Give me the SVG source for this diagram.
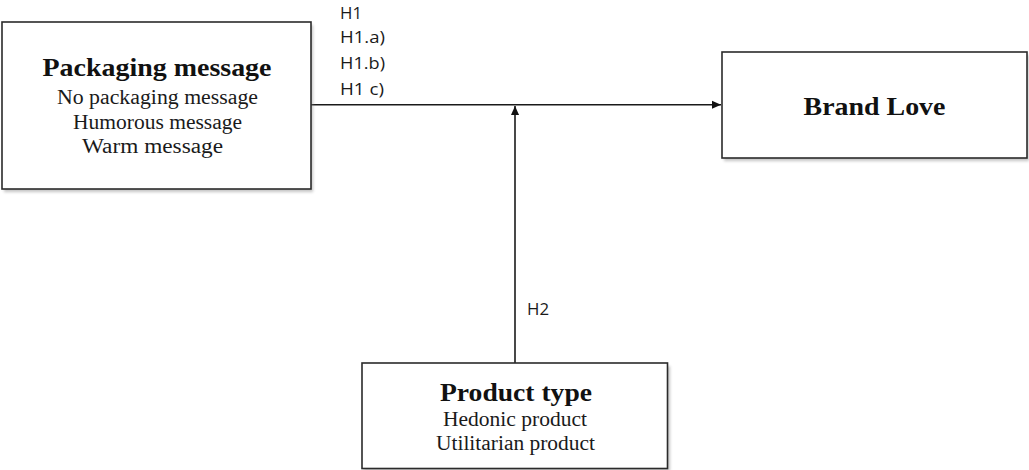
<svg xmlns="http://www.w3.org/2000/svg" width="1029" height="470" viewBox="0 0 1029 470">
  <style>
    .box { fill: #ffffff; stroke: #2b2b2b; stroke-width: 1.6; }
    .shadow { fill: #8a8a8a; opacity: 0.5; }
    .title { font-family: "Liberation Serif", "Times New Roman", serif; font-weight: bold; font-size: 25.5px; fill: #111; text-anchor: middle; }
    .sub { font-family: "Liberation Serif", "Times New Roman", serif; font-size: 20px; fill: #1a1a1a; text-anchor: middle; }
    .lbl { font-family: "Open Sans", "DejaVu Sans", sans-serif; font-size: 15.5px; fill: #1a1a1a; }
    .conn { stroke: #1a1a1a; stroke-width: 1.6; fill: none; }
  </style>
  <defs>
    <filter id="blur" x="-5%" y="-5%" width="110%" height="120%">
      <feGaussianBlur stdDeviation="1.5"/>
    </filter>
    <marker id="arrow" viewBox="0 0 10 10" refX="10" refY="5" markerWidth="10" markerHeight="9" markerUnits="userSpaceOnUse" orient="auto">
      <path d="M0,0.5 L10,5 L0,9.5 Z" fill="#111"/>
    </marker>
  </defs>
  <rect width="1029" height="470" fill="#ffffff"/>

  <g id="connectors">
    <line class="conn" x1="311" y1="104.8" x2="721" y2="104.8" marker-end="url(#arrow)"/>
    <line class="conn" x1="515" y1="363" x2="515" y2="106" marker-end="url(#arrow)"/>
    <g id="connector-labels">
      <text class="lbl" x="340" y="18.5" textLength="22" lengthAdjust="spacingAndGlyphs">H1</text>
      <text class="lbl" x="340" y="43" textLength="45" lengthAdjust="spacingAndGlyphs">H1.a)</text>
      <text class="lbl" x="340" y="68.5" textLength="45" lengthAdjust="spacingAndGlyphs">H1.b)</text>
      <text class="lbl" x="340" y="95" textLength="44" lengthAdjust="spacingAndGlyphs">H1 c)</text>
      <text class="lbl" x="527" y="315" textLength="22" lengthAdjust="spacingAndGlyphs">H2</text>
    </g>
  </g>

  <g id="packaging-message">
    <rect class="shadow" x="4" y="25" width="309" height="167" filter="url(#blur)"/>
    <rect class="box" x="2" y="22" width="309" height="167"/>
    <text class="title" x="157" y="76" textLength="229" lengthAdjust="spacingAndGlyphs">Packaging message</text>
    <text class="sub" x="157.5" y="103.5" textLength="201" lengthAdjust="spacingAndGlyphs">No packaging message</text>
    <text class="sub" x="157.5" y="128.5" textLength="169" lengthAdjust="spacingAndGlyphs">Humorous message</text>
    <text class="sub" x="152.5" y="152.5" textLength="141" lengthAdjust="spacingAndGlyphs">Warm message</text>
  </g>

  <g id="brand-love">
    <rect class="shadow" x="724" y="55" width="305" height="106" filter="url(#blur)"/>
    <rect class="box" x="722" y="52" width="305" height="106"/>
    <text class="title" x="874.5" y="115" textLength="142" lengthAdjust="spacingAndGlyphs">Brand Love</text>
  </g>

  <g id="product-type">
    <rect class="shadow" x="364" y="366" width="306" height="105" filter="url(#blur)"/>
    <rect class="box" x="362" y="363" width="305.5" height="105.5"/>
    <text class="title" x="516" y="401" textLength="152" lengthAdjust="spacingAndGlyphs">Product type</text>
    <text class="sub" x="515" y="425.5" textLength="144" lengthAdjust="spacingAndGlyphs">Hedonic product</text>
    <text class="sub" x="515.5" y="450" textLength="159" lengthAdjust="spacingAndGlyphs">Utilitarian product</text>
  </g>
</svg>
